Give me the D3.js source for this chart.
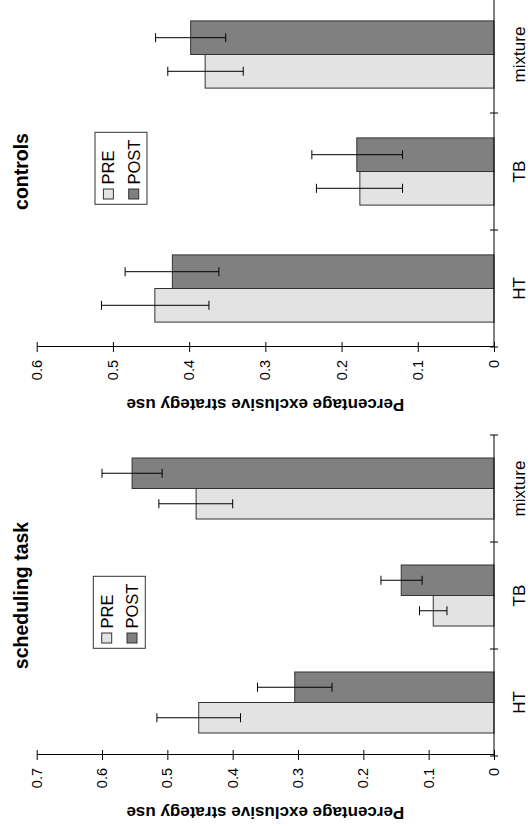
<!DOCTYPE html>
<html>
<head>
<meta charset="utf-8">
<script src="https://cdn.jsdelivr.net/npm/d3@7"></script>
<style>
body { margin: 0; background: #fff; }
text { font-family: "Liberation Sans", Arial, Helvetica, sans-serif; }
</style>
</head>
<body>
<div id="chart"></div>
<script>
// chart values
var categories = ["HT", "TB", "mixture"];
var series = ["PRE", "POST"];

var schedPre = [0.452, 0.093, 0.456];
var schedPreLow = [0.388, 0.072, 0.400];
var schedPreHigh = [0.516, 0.114, 0.513];
var schedPost = [0.305, 0.142, 0.554];
var schedPostLow = [0.248, 0.110, 0.508];
var schedPostHigh = [0.362, 0.173, 0.600];
var schedTicks = [0, 0.1, 0.2, 0.3, 0.4, 0.5, 0.6, 0.7];

var ctrlPre = [0.445, 0.176, 0.379];
var ctrlPreLow = [0.374, 0.120, 0.329];
var ctrlPreHigh = [0.515, 0.233, 0.428];
var ctrlPost = [0.422, 0.180, 0.398];
var ctrlPostLow = [0.361, 0.120, 0.352];
var ctrlPostHigh = [0.484, 0.239, 0.444];
var ctrlTicks = [0, 0.1, 0.2, 0.3, 0.4, 0.5, 0.6];

var yTitle = "Percentage exclusive strategy use";
var fills = { PRE: "#e3e3e3", POST: "#808080" };

var W = 827, H = 528;   // the figure is drawn upright, then turned a quarter left

var svg = d3.select("#chart").append("svg")
	.attr("width", H)
	.attr("height", W);

var frame = svg.append("g")
	.attr("transform", `translate(0,${W}) rotate(-90)`);

function drawPanel(p)
{
	var g = frame.append("g");

	var y = d3.scaleLinear()
		.domain([0, p.yMax])
		.range([494, 36.7]);

	var x0 = d3.scaleBand()
		.domain(categories)
		.range(p.catRange);
	var step = x0.step();

	var x1 = d3.scaleBand()
		.domain(series)
		.range([step / 2 - p.barW, step / 2 + p.barW]);

	var rows = [];
	categories.forEach(function(c, i) {
		rows.push({ cat: c, key: "PRE", v: p.pre[i], lo: p.preLow[i], hi: p.preHigh[i] });
		rows.push({ cat: c, key: "POST", v: p.post[i], lo: p.postLow[i], hi: p.postHigh[i] });
	});

	// bars
	g.append("g")
		.selectAll("rect")
		.data(rows)
		.join("rect")
		.attr("x", d => x0(d.cat) + x1(d.key))
		.attr("width", x1.bandwidth())
		.attr("y", d => y(d.v))
		.attr("height", d => y(0) - y(d.v))
		.attr("fill", d => fills[d.key])
		.attr("stroke", "#333")
		.attr("stroke-width", 1);

	// error bars
	var err = g.append("g")
		.attr("stroke", "#000")
		.attr("stroke-width", 1)
		.selectAll("g")
		.data(rows)
		.join("g")
		.attr("transform", d => `translate(${x0(d.cat) + x1(d.key) + x1.bandwidth() / 2},0)`);
	err.append("line")
		.attr("y1", d => y(d.lo))
		.attr("y2", d => y(d.hi));
	err.append("line")
		.attr("x1", -4.5).attr("x2", 4.5)
		.attr("y1", d => y(d.lo)).attr("y2", d => y(d.lo));
	err.append("line")
		.attr("x1", -4.5).attr("x2", 4.5)
		.attr("y1", d => y(d.hi)).attr("y2", d => y(d.hi));

	// value axis
	var ax = g.append("g")
		.attr("transform", `translate(${p.axisX},0)`)
		.call(d3.axisLeft(y)
			.tickValues(p.ticks)
			.tickSize(5)
			.tickSizeOuter(0)
			.tickPadding(8)
			.tickFormat(d => d === 0 ? "0" : d3.format(".1f")(d)))
		.attr("font-family", null)
		.attr("font-size", 14.5);
	ax.selectAll(".tick line").attr("x1", 5).attr("x2", -5);
	ax.selectAll("text").attr("fill", "#000");

	// category axis along the zero line
	var cat = g.append("g").attr("stroke", "#000");
	cat.append("line")
		.attr("x1", p.catRange[0]).attr("x2", p.catRange[1])
		.attr("y1", y(0)).attr("y2", y(0));
	var bounds = [p.catRange[0]].concat(categories.map(c => x0(c) + step));
	cat.selectAll("line.tk")
		.data(bounds)
		.join("line")
		.attr("class", "tk")
		.attr("x1", d => d).attr("x2", d => d)
		.attr("y1", y(0) - 4).attr("y2", y(0) + 4);

	g.append("g")
		.selectAll("text")
		.data(categories)
		.join("text")
		.attr("x", c => x0(c) + step / 2)
		.attr("y", 525)
		.attr("text-anchor", "middle")
		.style("font-size", "17px")
		.text(c => c);

	// titles
	g.append("text")
		.attr("x", (p.catRange[0] + p.catRange[1]) / 2)
		.attr("y", 28)
		.attr("text-anchor", "middle")
		.style("font-size", "19.5px")
		.style("font-weight", "bold")
		.text(p.title);

	g.append("text")
		.attr("transform", `translate(${p.yTitleX},${(y.range()[0] + y.range()[1]) / 2}) rotate(-90)`)
		.attr("text-anchor", "middle")
		.style("font-size", "17px")
		.style("font-weight", "bold")
		.text(yTitle);

	// legend
	var lg = g.append("g")
		.attr("transform", `translate(${p.legend[0]},${p.legend[1]})`);
	lg.append("rect")
		.attr("width", 72)
		.attr("height", 52)
		.attr("fill", "#fff")
		.attr("stroke", "#333");
	var item = lg.selectAll("g")
		.data(series)
		.join("g")
		.attr("transform", (d, i) => `translate(5.3,${8.4 + i * 25.3})`);
	item.append("rect")
		.attr("width", 10)
		.attr("height", 10)
		.attr("fill", d => fills[d])
		.attr("stroke", "#333");
	item.append("text")
		.attr("x", 14.5)
		.attr("y", 11)
		.style("font-size", "16.5px")
		.text(d => d);
}

drawPanel({
	title: "scheduling task",
	pre: schedPre, preLow: schedPreLow, preHigh: schedPreHigh,
	post: schedPost, postLow: schedPostLow, postHigh: schedPostHigh,
	ticks: schedTicks, yMax: 0.7,
	axisX: 72, catRange: [71, 392], barW: 30.5,
	yTitleX: 20, legend: [178.7, 93.3]
});

drawPanel({
	title: "controls",
	pre: ctrlPre, preLow: ctrlPreLow, preHigh: ctrlPreHigh,
	post: ctrlPost, postLow: ctrlPostLow, postHigh: ctrlPostHigh,
	ticks: ctrlTicks, yMax: 0.6,
	axisX: 480, catRange: [480, 831], barW: 33.6,
	yTitleX: 428, legend: [622.7, 95]
});
</script>
</body>
</html>
